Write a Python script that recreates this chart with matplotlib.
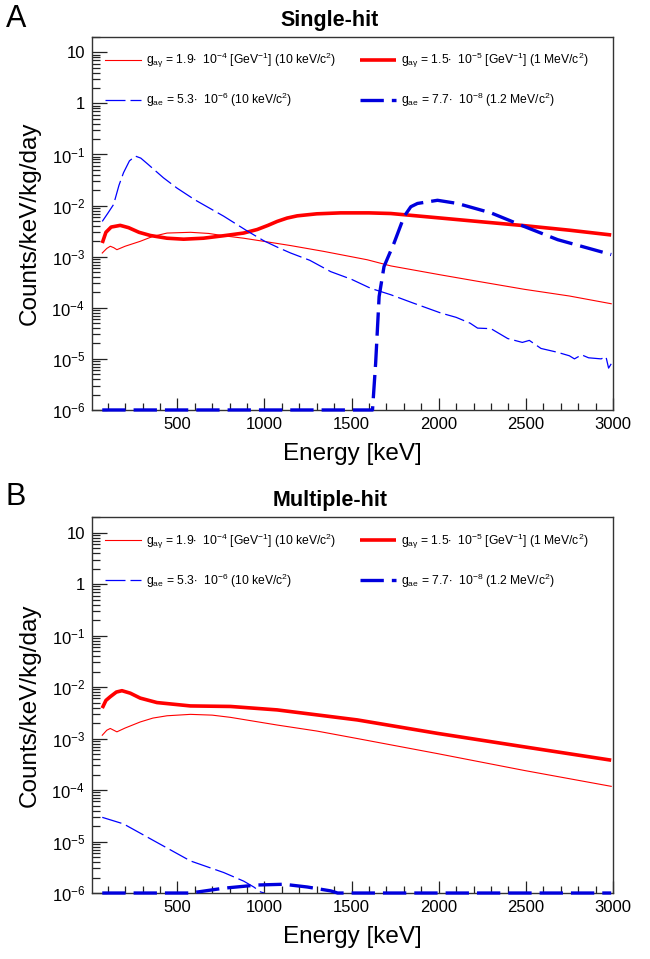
import numpy as np
import matplotlib
matplotlib.use("Agg")
import matplotlib.pyplot as plt
from matplotlib.ticker import FuncFormatter, LogLocator, MultipleLocator

plt.rcParams['font.family'] = ['Liberation Sans', 'DejaVu Sans']
plt.rcParams['mathtext.fontset'] = 'custom'
plt.rcParams['mathtext.rm'] = 'Liberation Sans'
plt.rcParams['mathtext.it'] = 'Liberation Sans:italic'
plt.rcParams['mathtext.bf'] = 'Liberation Sans:bold'

# =========================
# DATA
# =========================

# panel A, single-hit
a_red_thin_e = [69, 95, 115, 135, 153, 200, 287, 360, 441, 575, 680, 765, 880, 995, 1150, 1340, 1590, 1725, 2012, 2223, 2491, 2750, 2990]
a_red_thin_v = [1.18e-3, 1.45e-3, 1.6e-3, 1.5e-3, 1.37e-3, 1.6e-3, 2.0e-3, 2.5e-3, 2.9e-3, 3.0e-3, 2.85e-3, 2.57e-3, 2.3e-3, 2.0e-3, 1.65e-3, 1.27e-3, 8.7e-4, 6.6e-4, 4.4e-4, 3.3e-4, 2.3e-4, 1.7e-4, 1.2e-4]

a_red_thick_e = [69, 90, 120, 172, 220, 280, 345, 440, 536, 650, 765, 880, 958, 1020, 1073, 1130, 1188, 1300, 1437, 1600, 1725, 2012, 2250, 2491, 2750, 2990]
a_red_thick_v = [1.85e-3, 3.0e-3, 3.8e-3, 4.1e-3, 3.7e-3, 3.0e-3, 2.6e-3, 2.3e-3, 2.2e-3, 2.3e-3, 2.57e-3, 2.9e-3, 3.4e-3, 4.1e-3, 4.9e-3, 5.7e-3, 6.3e-3, 6.9e-3, 7.2e-3, 7.2e-3, 7.0e-3, 5.7e-3, 4.8e-3, 4.05e-3, 3.3e-3, 2.66e-3]

a_blue_thin_e = [69, 100, 134, 165, 191, 225, 259, 290, 330, 420, 498, 600, 766, 900, 996, 1080, 1150, 1260, 1380, 1500, 1610, 1725, 1850, 2012, 2100, 2180, 2223, 2300, 2396, 2480, 2520, 2587, 2680, 2750, 2779, 2820, 2860, 2932, 2960, 2975, 2990]
a_blue_thin_v = [4.9e-3, 7.0e-3, 1.05e-2, 2.5e-2, 4.4e-2, 7.5e-2, 9.3e-2, 8.5e-2, 6.5e-2, 3.5e-2, 2.2e-2, 1.3e-2, 6.2e-3, 3.2e-3, 2.05e-3, 1.5e-3, 1.18e-3, 8.5e-4, 5.1e-4, 3.6e-4, 2.4e-4, 1.8e-4, 1.25e-4, 7.9e-5, 6.5e-5, 5.0e-5, 4.0e-5, 3.9e-5, 2.5e-5, 2.1e-5, 2.3e-5, 1.6e-5, 1.35e-5, 1.15e-5, 1.0e-5, 1.2e-5, 1.05e-5, 1.0e-5, 1.1e-5, 6.6e-6, 8.0e-6]

a_blue_thick_e = [69, 1620, 1638, 1658, 1686, 1744, 1801, 1840, 1878, 1993, 2108, 2300, 2491, 2683, 2990]
a_blue_thick_v = [1e-6, 1e-6, 8.2e-6, 1.66e-4, 6.4e-4, 1.86e-3, 6.1e-3, 9.5e-3, 1.1e-2, 1.27e-2, 1.1e-2, 7.2e-3, 3.9e-3, 2.15e-3, 1.1e-3]

# panel B, multiple-hit
b_red_thin_e = [69, 95, 115, 135, 153, 200, 287, 360, 441, 575, 700, 805, 1073, 1300, 1533, 1993, 2491, 2990]
b_red_thin_v = [1.16e-3, 1.45e-3, 1.57e-3, 1.45e-3, 1.35e-3, 1.6e-3, 2.1e-3, 2.5e-3, 2.77e-3, 2.95e-3, 2.85e-3, 2.58e-3, 1.83e-3, 1.4e-3, 1.0e-3, 5.1e-4, 2.4e-4, 1.18e-4]

b_red_thick_e = [69, 90, 115, 150, 182, 230, 287, 383, 575, 805, 1073, 1533, 1993, 2491, 2990]
b_red_thick_v = [3.9e-3, 5.5e-3, 6.5e-3, 8.0e-3, 8.5e-3, 7.6e-3, 6.1e-3, 5.0e-3, 4.3e-3, 4.2e-3, 3.6e-3, 2.3e-3, 1.26e-3, 6.9e-4, 3.8e-4]

b_blue_thin_e = [69, 191, 383, 575, 766, 881, 940, 977, 1000]
b_blue_thin_v = [2.95e-5, 2.2e-5, 9.6e-6, 4.2e-6, 2.5e-6, 1.7e-6, 1.3e-6, 1.05e-6, 1e-6]

b_blue_thick_e = [69, 575, 766, 958, 1111, 1245, 1380, 1420, 2990]
b_blue_thick_v = [1e-6, 1e-6, 1.24e-6, 1.43e-6, 1.48e-6, 1.31e-6, 1.1e-6, 1e-6, 1e-6]

labels = [
    r"g$_{\mathrm{a\gamma}}$ = 1.9$\bullet$  10$^{-4}$ [GeV$^{-1}$] (10 keV/c$^{2}$)",
    r"g$_{\mathrm{ae}}$ = 5.3$\bullet$  10$^{-6}$ (10 keV/c$^{2}$)",
    r"g$_{\mathrm{a\gamma}}$ = 1.5$\bullet$  10$^{-5}$ [GeV$^{-1}$] (1 MeV/c$^{2}$)",
    r"g$_{\mathrm{ae}}$ = 7.7$\bullet$  10$^{-8}$ (1.2 MeV/c$^{2}$)",
]

# =========================
# FIGURE
# =========================

fig = plt.figure(figsize=(6.5, 9.59), dpi=100)
ax_a = fig.add_axes([0.1415, 0.5725, 0.8015, 0.389])
ax_b = fig.add_axes([0.1415, 0.0688, 0.8015, 0.392])


def log_label(v, pos):
    e = int(round(np.log10(v)))
    if e == 0:
        return "1"
    if e == 1:
        return "10"
    return r"10$^{%d}$" % e


def draw_panel(ax, red_thin, red_thick, blue_thin, blue_thick, title):
    l1, = ax.plot(red_thin[0], red_thin[1], color="#ff0000", lw=0.8)
    l3, = ax.plot(red_thick[0], red_thick[1], color="#ff0000", lw=2.6, solid_capstyle="butt")
    l2, = ax.plot(blue_thin[0], blue_thin[1], color="#0000ff", lw=0.9, dashes=(16, 4))
    l4, = ax.plot(blue_thick[0], blue_thick[1], color="#0000dd", lw=2.4, dashes=(7, 2.4),
                  clip_on=False, zorder=5)

    ax.set_yscale("log")
    ax.set_xlim(10, 3000)
    ax.set_ylim(1e-6, 20)

    ax.xaxis.set_major_locator(MultipleLocator(500))
    ax.xaxis.set_minor_locator(MultipleLocator(100))
    ax.yaxis.set_major_locator(LogLocator(base=10, numticks=20))
    ax.yaxis.set_minor_locator(LogLocator(base=10, subs=np.arange(2, 10), numticks=20))
    ax.yaxis.set_major_formatter(FuncFormatter(log_label))
    ax.yaxis.set_minor_formatter(FuncFormatter(lambda v, p: ""))

    ax.tick_params(which="both", direction="in", top=False, right=False,
                   labelsize=12, width=0.9, color="#222222", pad=5)
    ax.tick_params(axis="x", which="major", length=8.5)
    ax.tick_params(axis="x", which="minor", length=5)
    ax.tick_params(axis="y", which="major", length=11)
    ax.tick_params(axis="y", which="minor", length=5.5)
    for s in ax.spines.values():
        s.set_linewidth(1.0)
        s.set_color("#333333")

    ax.set_xlabel("Energy [keV]", fontsize=17.5, labelpad=8)
    ax.set_ylabel("Counts/keV/kg/day", fontsize=17.5, labelpad=8)
    ax.set_title(title, fontsize=15.5, fontweight="bold", pad=8, x=0.457)

    leg1 = ax.legend([l1, l2], labels[:2], loc="upper left", bbox_to_anchor=(0.025, 0.962),
                     frameon=False, fontsize=8.7, handlelength=3.0, handletextpad=0.4,
                     labelspacing=1.72, borderaxespad=0, borderpad=0)
    ax.add_artist(leg1)
    ax.legend([l3, l4], labels[2:], loc="upper left", bbox_to_anchor=(0.514, 0.962),
              frameon=False, fontsize=8.7, handlelength=3.0, handletextpad=0.4,
              labelspacing=1.72, borderaxespad=0, borderpad=0)


draw_panel(ax_a, (a_red_thin_e, a_red_thin_v), (a_red_thick_e, a_red_thick_v),
           (a_blue_thin_e, a_blue_thin_v), (a_blue_thick_e, a_blue_thick_v),
           "Single-hit")
draw_panel(ax_b, (b_red_thin_e, b_red_thin_v), (b_red_thick_e, b_red_thick_v),
           (b_blue_thin_e, b_blue_thin_v), (b_blue_thick_e, b_blue_thick_v),
           "Multiple-hit")

# panel letters
fig.text(0.009, 0.980, "A", fontsize=22, ha="left", va="center")
fig.text(0.009, 0.482, "B", fontsize=22, ha="left", va="center")

plt.savefig("out.png", dpi=100)
